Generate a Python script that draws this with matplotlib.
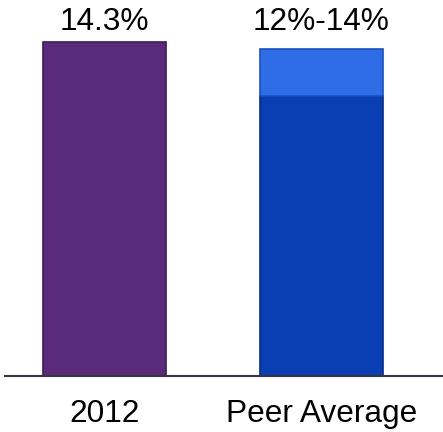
import matplotlib.pyplot as plt

# data
categories = ['2012', 'Peer Average']
value_2012 = 14.3
peer_low = 12.0
peer_high = 14.0
labels = ['14.3%', '12%-14%']

fig = plt.figure(figsize=(4.43, 4.32), dpi=100)
ax = fig.add_axes([5 / 443, 56 / 432, 438 / 443, 376 / 432])

width = 0.567
# 2012 bar
ax.bar(0, value_2012, width, color='#5a2a7b', edgecolor='#3e1a57', linewidth=1.2)
# peer range: solid lower part and lighter range on top
ax.bar(1, peer_low, width, color='#0a3fb4', edgecolor='#062c82', linewidth=1.2)
ax.bar(1, peer_high - peer_low, width, bottom=peer_low, color='#2f6de6',
       edgecolor='#1c4fc0', linewidth=1.2)

ax.text(0, 14.8, labels[0], ha='center', va='baseline', fontsize=22.8,
        family='Liberation Sans')
ax.text(1, 14.8, labels[1], ha='center', va='baseline', fontsize=22.8,
        family='Liberation Sans')

ax.set_xlim(-0.4585, 1.56)
ax.set_ylim(0, 16.1)
ax.set_yticks([])
ax.set_xticks([0, 1])
ax.set_xticklabels(categories, fontsize=22.8, family='Liberation Sans')
ax.tick_params(axis='x', length=0, pad=16.5)
for s in ['top', 'right', 'left']:
    ax.spines[s].set_visible(False)
ax.spines['bottom'].set_color('#3b3340')
ax.spines['bottom'].set_linewidth(1.5)

fig.savefig('out.png', dpi=100)
